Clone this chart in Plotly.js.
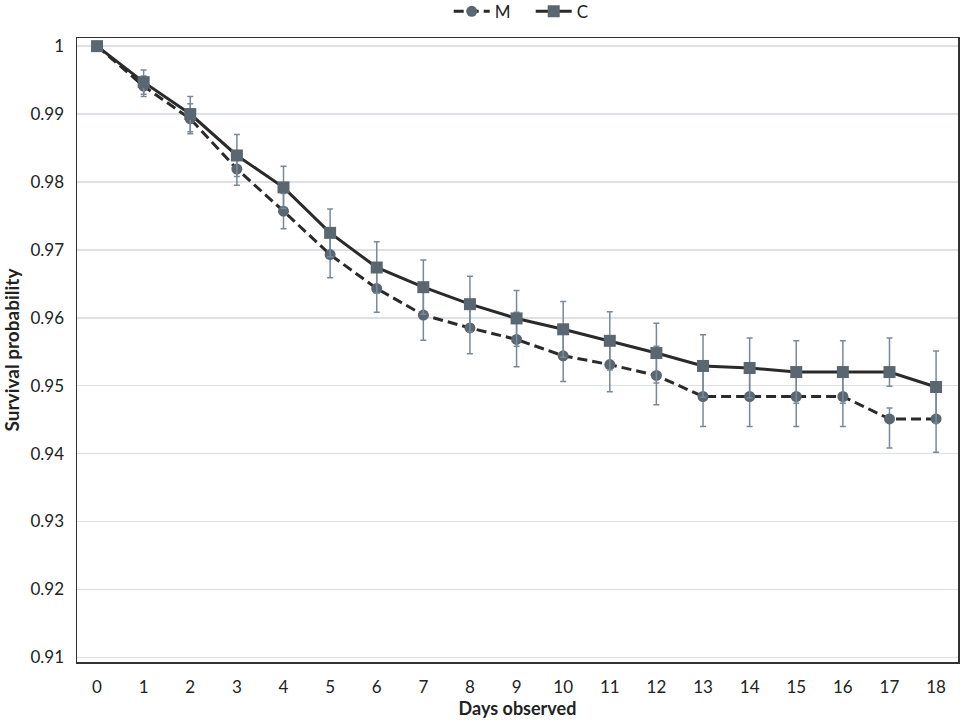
<!DOCTYPE html>
<html>
<head>
<meta charset="utf-8">
<script src="https://cdn.plot.ly/plotly-3.0.1.min.js"></script>
<style>html,body{margin:0;padding:0;background:#fff;}#chart{width:960px;height:724px;}</style>
</head>
<body>
<div id="chart"></div>
<script>
var days = [0,1,2,3,4,5,6,7,8,9,10,11,12,13,14,15,16,17,18];
var survM = [1.0,0.9941,0.9893,0.9819,0.9757,0.9693,0.9643,0.9604,0.9585,0.9568,0.9544,0.9531,0.9515,0.9484,0.9484,0.9484,0.9484,0.9451,0.9451];
var errM = [0,0.0015,0.0022,0.0024,0.0026,0.0034,0.0035,0.0037,0.0038,0.0040,0.0038,0.0040,0.0043,0.0044,0.0044,0.0044,0.0044,0.0043,0.0049];
var errMPlus = [0,0.0015,0.0022,0.0024,0.0026,0.0034,0.0035,0.0037,0.0038,0.0040,0.0038,0.0040,0.0043,0.0044,0.0044,0.0044,0.0044,0.0016,0.0049];
var survC = [1.0,0.9947,0.9900,0.9839,0.9792,0.9725,0.9674,0.9645,0.9620,0.9599,0.9583,0.9566,0.9548,0.9529,0.9526,0.9520,0.9520,0.9520,0.9498];
var errC = [0,0.0018,0.0026,0.0031,0.0031,0.0035,0.0038,0.0040,0.0041,0.0041,0.0041,0.0043,0.0044,0.0046,0.0044,0.0046,0.0046,0.0050,0.0053];
var errCMinus = [0,0.0018,0.0026,0.0031,0.0031,0.0035,0.0038,0.0040,0.0041,0.0041,0.0041,0.0043,0.0044,0.0046,0.0044,0.0046,0.0046,0.0021,0.0053];
var yTicks = [0.91,0.92,0.93,0.94,0.95,0.96,0.97,0.98,0.99,1];
var yTickText = ['0.91','0.92','0.93','0.94','0.95','0.96','0.97','0.98','0.99','1'];

var markerCol = '#5b6770';
var lineCol = '#2a2a2a';
var errCol = '#788a9a';

var traces = [
  {
    x: days, y: survM, name: 'M', type: 'scatter', mode: 'lines+markers',
    line: {color: lineCol, width: 3, dash: '10px,5px'},
    marker: {symbol: 'circle', size: 11, color: markerCol},
    error_y: {type: 'data', symmetric: false, array: errMPlus, arrayminus: errM, color: errCol, thickness: 1.5, width: 3}
  },
  {
    x: days, y: survC, name: 'C', type: 'scatter', mode: 'lines+markers',
    line: {color: lineCol, width: 3},
    marker: {symbol: 'square', size: 12, color: markerCol},
    error_y: {type: 'data', symmetric: false, array: errC, arrayminus: errCMinus, color: errCol, thickness: 1.5, width: 3}
  }
];

var layout = {
  width: 960, height: 724,
  paper_bgcolor: '#ffffff', plot_bgcolor: '#ffffff',
  margin: {l: 77, r: 2, t: 38, b: 62, autoexpand: false},
  font: {family: 'Lato, "Open Sans", sans-serif', size: 17, color: '#222'},
  showlegend: true,
  legend: {orientation: 'h', x: 0.515, xanchor: 'center', y: 1.042, yanchor: 'middle', font: {size: 17}, bgcolor: 'rgba(0,0,0,0)', itemwidth: 36, entrywidth: 31, entrywidthmode: 'pixels'},
  xaxis: {
    range: [-0.43, 18.47], tickmode: 'array', tickvals: days, ticktext: days.map(String),
    showgrid: false, zeroline: false, showline: true, linecolor: '#333', linewidth: 1.5, mirror: true,
    ticks: '', ticklabelstandoff: 9,
    title: {text: '<b>Days observed</b>', font: {size: 18}, standoff: 6}
  },
  yaxis: {
    range: [0.9093, 1.0012], tickmode: 'array', tickvals: yTicks, ticktext: yTickText,
    showgrid: true, gridcolor: '#dde0e6', gridwidth: 1.5, zeroline: false,
    showline: true, linecolor: '#333', linewidth: 1.5, mirror: true,
    ticks: '', ticklabelstandoff: 8,
    title: {text: '<b>Survival probability</b>', font: {size: 19}, standoff: 12}
  }
};

Plotly.newPlot('chart', traces, layout, {displayModeBar: false, staticPlot: true});
</script>
</body>
</html>
